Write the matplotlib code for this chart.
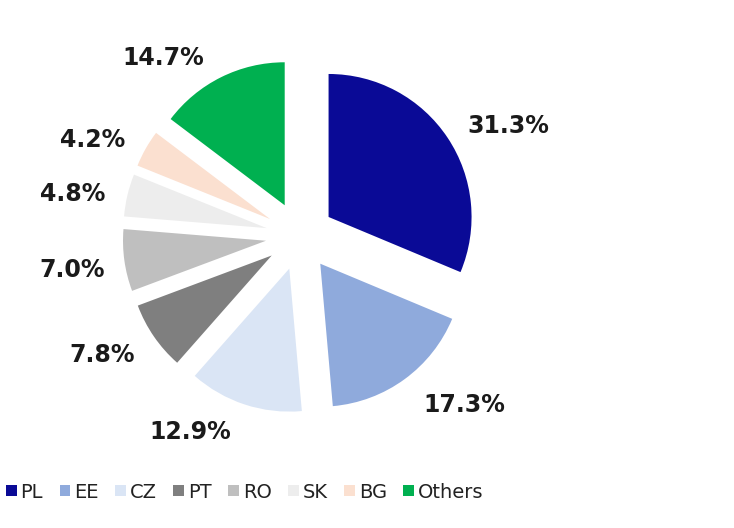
import matplotlib
matplotlib.use("Agg")
import matplotlib.pyplot as plt
from matplotlib.patches import Patch

# datos
countries = ["PL", "EE", "CZ", "PT", "RO", "SK", "BG", "Others"]
shares = [31.3, 17.3, 12.9, 7.8, 7.0, 4.8, 4.2, 14.7]
colors = ["#0a0a96", "#8faadc", "#dae5f5", "#7f7f7f", "#bfbfbf", "#ededed", "#fbe0d0", "#00b050"]

# posiciones de las etiquetas (pixeles, desde arriba)
label_pos = [(508, 126), (464, 405), (190, 432), (102, 355), (72, 270), (73, 194), (93, 140), (163, 58)]

W, H = 734, 528
fig = plt.figure(figsize=(W / 100, H / 100), dpi=100)
ax = fig.add_axes([0, 0, 1, 1])
ax.set_xlim(0, W)
ax.set_ylim(0, H)
ax.set_aspect("equal")
ax.axis("off")

cx, cy, R = 300, H - 236, 143
# explode va en unidades de datos, no en fraccion del radio
wedges, _ = ax.pie(shares, colors=colors, startangle=90, counterclock=False,
                   explode=[0.24 * R] * len(shares), radius=R, center=(cx, cy),
                   wedgeprops=dict(linewidth=0))

for val, (x, y) in zip(shares, label_pos):
    ax.text(x, H - y, "{:.1f}%".format(val), ha="center", va="center",
            fontsize=17, fontweight="bold", color="#1a1a1a")

ax.set_xlim(0, W)
ax.set_ylim(0, H)

handles = [Patch(facecolor=c, edgecolor="none") for c in colors]
fig.legend(handles, countries, loc="center left", bbox_to_anchor=(6 / W, 1 - 492 / H),
           ncol=8, frameon=False, fontsize=14, handlelength=0.55, handleheight=0.55,
           handletextpad=0.2, columnspacing=0.85, borderpad=0, borderaxespad=0,
           labelcolor="#222222")

fig.savefig("out.png", dpi=100, facecolor="white")
